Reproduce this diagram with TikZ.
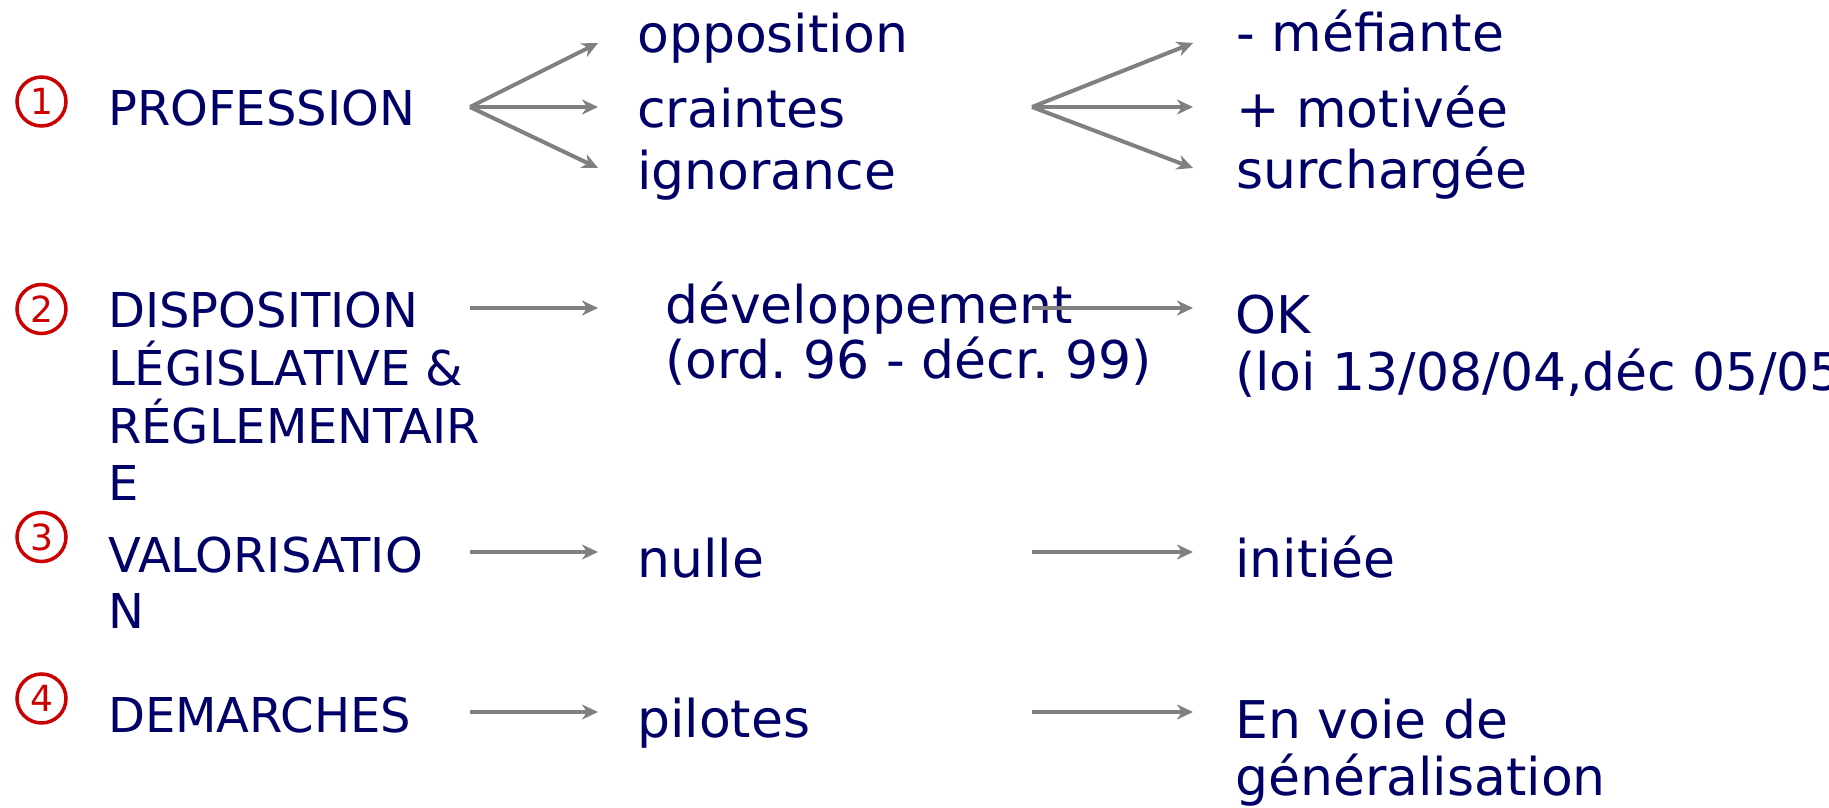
\documentclass[tikz,border=0pt]{standalone}
\usepackage{fontspec}
\setmainfont{DejaVu Sans}
\usetikzlibrary{arrows.meta}
\definecolor{navy}{RGB}{0,0,102}
\definecolor{redc}{RGB}{204,0,0}
\definecolor{arrgray}{RGB}{128,128,128}
\frenchspacing
\begin{document}
\begin{tikzpicture}[x=1pt,y=-1pt,
  lab/.style={anchor=base west, inner sep=0pt, text=navy, font=\fontsize{48}{58}\selectfont},
  item/.style={anchor=base west, inner sep=0pt, text=navy, font=\fontsize{52}{62}\selectfont},
  num/.style={circle, draw=redc, line width=3.5pt, minimum size=49pt, inner sep=0pt, text=redc, font=\fontsize{36}{36}\selectfont},
  arr/.style={draw=arrgray, line width=4pt, -{Stealth[length=16pt,width=15pt,inset=5pt]}}]
\useasboundingbox (0,0) rectangle (1829,808);
\fill[white] (0,0) rectangle (1829,808);
\clip (0,0) rectangle (1829,808);

% Row 1
\node[num] (n1) at (41.5,101.5) {1};
\node[lab] (prof) at (108,125) {PROFESSION};
\node[item] (opp) at (637,53) {opposition};
\node[item] (cra) at (637,128) {craintes};
\node[item] (ign) at (637,189) {ignorance};
\node[item] (mef) at (1236,52) {- méfiante};
\node[item] (mot) at (1236,128) {+ motivée};
\node[item] (sur) at (1236,188) {surchargée};
\coordinate (f1) at (470,107);
\coordinate (t1a) at (598,43);
\coordinate (t1b) at (598,107);
\coordinate (t1c) at (598,168);
\coordinate (f2) at (1032,107);
\coordinate (t2a) at (1193,43);
\coordinate (t2b) at (1193,107);
\coordinate (t2c) at (1193,168);
\draw[arr] (f1) -- (t1a);
\draw[arr] (f1) -- (t1b);
\draw[arr] (f1) -- (t1c);
\draw[arr] (f2) -- (t2a);
\draw[arr] (f2) -- (t2b);
\draw[arr] (f2) -- (t2c);

% Row 2
\node[num] (n2) at (41.5,309) {2};
\node[lab] (disp1) at (108,327) {DISPOSITION};
\node[lab] (disp2) at (108,385) {LÉGISLATIVE \&};
\node[lab] (disp3) at (108,443) {RÉGLEMENTAIR};
\node[lab] (disp4) at (108,500) {E};
\node[item] (dev1) at (665,323) {développement};
\node[item] (dev2) at (665,378) {(ord. 96 - décr. 99)};
\node[item] (ok1) at (1235,333) {OK};
\node[item] (ok2) at (1235,390) {(loi 13/08/04,déc 05/05};
\coordinate (s2a) at (470,308);
\coordinate (e2a) at (598,308);
\coordinate (s2b) at (1032,308);
\coordinate (e2b) at (1193,308);
\draw[arr] (s2a) -- (e2a);
\draw[arr] (s2b) -- (e2b);

% Row 3
\node[num] (n3) at (41.5,537) {3};
\node[lab] (val1) at (108,572) {VALORISATIO};
\node[lab] (val2) at (108,628) {N};
\node[item] (nul) at (637,577) {nulle};
\node[item] (ini) at (1235,577) {initiée};
\coordinate (s3a) at (470,552);
\coordinate (e3a) at (598,552);
\coordinate (s3b) at (1032,552);
\coordinate (e3b) at (1193,552);
\draw[arr] (s3a) -- (e3a);
\draw[arr] (s3b) -- (e3b);

% Row 4
\node[num] (n4) at (41.5,698.5) {4};
\node[lab] (dem) at (108,732) {DEMARCHES};
\node[item] (pil) at (637,737) {pilotes};
\node[item] (env1) at (1235,738) {En voie de};
\node[item] (env2) at (1235,795) {généralisation};
\coordinate (s4a) at (470,712);
\coordinate (e4a) at (598,712);
\coordinate (s4b) at (1032,712);
\coordinate (e4b) at (1193,712);
\draw[arr] (s4a) -- (e4a);
\draw[arr] (s4b) -- (e4b);
\end{tikzpicture}
\end{document}
